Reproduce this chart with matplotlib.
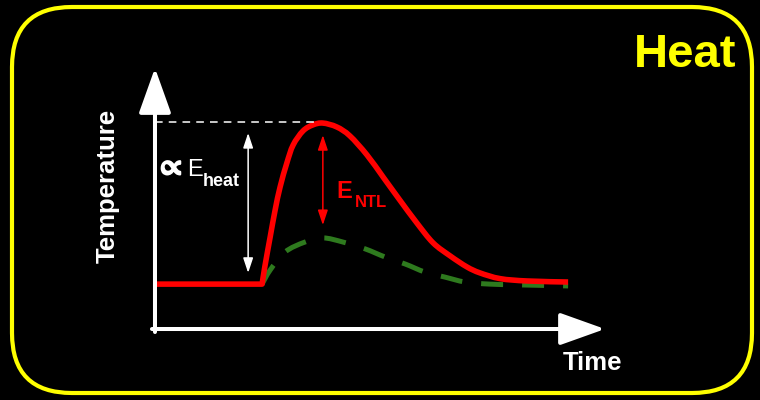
"""Schematic: temperature rise of a heated sample vs time."""

import matplotlib

matplotlib.use("Agg")
import matplotlib.patheffects as pe
import matplotlib.pyplot as plt
from matplotlib.patches import FancyBboxPatch, PathPatch
from matplotlib.path import Path

# red curve: measured temperature (arbitrary units)
time_red = [0, 2.38, 2.44, 2.56, 2.67, 2.78, 2.93, 3.07, 3.29, 3.51, 3.73, 4.04,
            4.33, 4.71, 5.07, 5.44, 5.82, 6.18, 6.56, 6.93, 7.22, 7.67, 8.27, 9.18]
temp_red = [1.72, 1.72, 2.38, 3.53, 4.56, 5.44, 6.36, 7.05, 7.59, 7.82, 7.89, 7.74,
            7.40, 6.67, 5.82, 4.94, 4.06, 3.30, 2.80, 2.38, 2.15, 1.93, 1.84, 1.80]

# green dashed curve: reference heating
time_green = [2.38, 2.56, 2.89, 3.33, 3.73, 4.18, 4.67, 5.11, 5.56, 6.00,
              6.44, 6.89, 7.44, 8.11, 9.18]
temp_green = [1.72, 2.26, 2.95, 3.33, 3.49, 3.33, 3.07, 2.76, 2.49, 2.18,
              1.99, 1.80, 1.72, 1.69, 1.65]

peak_time = 3.62
peak_temp = 7.93
axis_end = 10.0

RED = "#ff0000"
GREEN = "#2e7a1e"
YELLOW = "#ffff00"
FONT = ["Liberation Sans", "DejaVu Sans"]


def smooth_path(xs, ys, corner=None):
    """Catmull-Rom curve through the points, as bezier segments."""
    verts = [(xs[0], ys[0])]
    codes = [Path.MOVETO]
    n = len(xs)
    for i in range(n - 1):
        if corner is not None and i < corner:
            verts.append((xs[i + 1], ys[i + 1]))
            codes.append(Path.LINETO)
            continue
        x0, y0 = (xs[i - 1], ys[i - 1]) if i > 0 and i != corner else (xs[i], ys[i])
        x1, y1 = xs[i], ys[i]
        x2, y2 = xs[i + 1], ys[i + 1]
        x3, y3 = (xs[i + 2], ys[i + 2]) if i + 2 < n else (x2, y2)
        c1 = (x1 + (x2 - x0) / 6, y1 + (y2 - y0) / 6)
        c2 = (x2 - (x3 - x1) / 6, y2 - (y3 - y1) / 6)
        verts += [c1, c2, (x2, y2)]
        codes += [Path.CURVE4] * 3
    return Path(verts, codes)


fig = plt.figure(figsize=(7.6, 4), dpi=100, facecolor="black")

# frame in pixel units
bg = fig.add_axes([0, 0, 1, 1])
bg.set_xlim(0, 760)
bg.set_ylim(400, 0)
bg.axis("off")
bg.add_patch(FancyBboxPatch((12, 7), 740, 386, boxstyle="round,pad=0,rounding_size=60",
                            fill=False, edgecolor=YELLOW, linewidth=3))

ax = fig.add_axes([0, 0, 1, 1])
ax.set_facecolor("none")
ax.set_xlim(-3.444, 13.444)
ax.set_ylim(-2.72, 12.605)
ax.axis("off")

axis_arrow = dict(arrowstyle="-|>,head_length=2.8,head_width=1.0", color="white",
                  lw=2.9, shrinkA=0, shrinkB=0, mutation_scale=10)
ax.annotate("", xy=(0, axis_end), xytext=(0, -0.115), arrowprops=axis_arrow)
ax.annotate("", xy=(axis_end, 0), xytext=(-0.067, 0), arrowprops=axis_arrow)

ax.plot([0, peak_time], [peak_temp, peak_temp], color="white", lw=1.1,
        linestyle=(0, (5, 4)))

ax.add_patch(PathPatch(smooth_path(time_green, temp_green), fill=False,
                       edgecolor=GREEN, lw=3.6, linestyle=(0, (4.4, 3.8)),
                       capstyle="butt"))
ax.add_patch(PathPatch(smooth_path(time_red, temp_red, corner=1), fill=False,
                       edgecolor=RED, lw=4, joinstyle="round", capstyle="butt"))

small_arrow = "<|-|>,head_length=0.9,head_width=0.3"
ax.annotate("", xy=(2.07, 7.51), xytext=(2.07, 2.15),
            arrowprops=dict(arrowstyle=small_arrow, color="white", lw=1.1,
                            shrinkA=0, shrinkB=0, mutation_scale=10))
ax.annotate("", xy=(3.73, 7.43), xytext=(3.73, 3.98),
            arrowprops=dict(arrowstyle=small_arrow, color=RED, lw=1.1,
                            shrinkA=0, shrinkB=0, mutation_scale=10))

ax.text(0.02, 6.25, r"$\propto$", color="white", fontsize=22, math_fontfamily="stixsans",
        ha="left", va="center",
        path_effects=[pe.withStroke(linewidth=1.6, foreground="white")])
ax.text(0.71, 5.86, "E", color="white", fontsize=17, family=FONT,
        ha="left", va="baseline")
ax.text(1.07, 5.48, "heat", color="white", fontsize=13, fontweight="bold",
        family=FONT, ha="left", va="baseline")

ax.text(4.04, 5.02, "E", color=RED, fontsize=17, fontweight="bold", family=FONT,
        ha="left", va="baseline")
ax.text(4.44, 4.67, "NTL", color=RED, fontsize=12, fontweight="bold", family=FONT,
        ha="left", va="baseline")

ax.text(-1.04, 5.48, "Temperature", color="white", fontsize=18.5, fontweight="bold",
        family=FONT, rotation=90, ha="center", va="center")
ax.text(9.73, -1.30, "Time", color="white", fontsize=18.5, fontweight="bold",
        family=FONT, ha="center", va="center")

fig.text(736 / 760, 1 - 67 / 400, "Heat", color=YELLOW, fontsize=34,
         fontweight="bold", family=FONT, ha="right", va="baseline")

fig.savefig("out.png", dpi=100, facecolor="black")
